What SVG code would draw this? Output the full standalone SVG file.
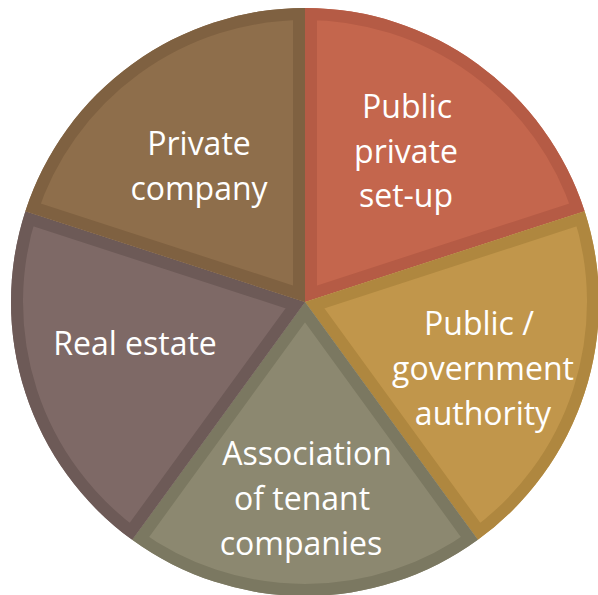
<svg xmlns="http://www.w3.org/2000/svg" width="598" height="595" viewBox="0 0 598 595">
  <style>
    .band { fill: none; stroke-width: 24; }
    .label { font-family: "Open Sans", Lato, "Liberation Sans", sans-serif; font-size: 32px; fill: #ffffff; text-anchor: middle; }
  </style>
  <defs>
    <!-- five equal 72-degree wedges around (305,302), r=294 -->
    <path id="w-ppp" d="M305,302 L305,8 A294,294 0 0 1 584.61,211.15 Z"/>
    <path id="w-gov" d="M305,302 L584.61,211.15 A294,294 0 0 1 477.81,539.85 Z"/>
    <path id="w-assoc" d="M305,302 L477.81,539.85 A294,294 0 0 1 132.19,539.85 Z"/>
    <path id="w-real" d="M305,302 L132.19,539.85 A294,294 0 0 1 25.39,211.15 Z"/>
    <path id="w-priv" d="M305,302 L25.39,211.15 A294,294 0 0 1 305,8 Z"/>
    <clipPath id="c-ppp"><use href="#w-ppp"/></clipPath>
    <clipPath id="c-gov"><use href="#w-gov"/></clipPath>
    <clipPath id="c-assoc"><use href="#w-assoc"/></clipPath>
    <clipPath id="c-real"><use href="#w-real"/></clipPath>
    <clipPath id="c-priv"><use href="#w-priv"/></clipPath>
  </defs>

  <g id="public-private">
    <use href="#w-ppp" fill="#C4664D"/>
    <use href="#w-ppp" class="band" stroke="#B55B45" clip-path="url(#c-ppp)"/>
    <text class="label"><tspan x="407" y="118">Public</tspan><tspan x="406" y="163">private</tspan><tspan x="406" y="207">set-up</tspan></text>
  </g>

  <g id="public-government">
    <use href="#w-gov" fill="#C1964B"/>
    <use href="#w-gov" class="band" stroke="#AF873F" clip-path="url(#c-gov)"/>
    <text class="label"><tspan x="479" y="335">Public /</tspan><tspan x="483" y="380">government</tspan><tspan x="483" y="425">authority</tspan></text>
  </g>

  <g id="association">
    <use href="#w-assoc" fill="#8C8870"/>
    <use href="#w-assoc" class="band" stroke="#7B7861" clip-path="url(#c-assoc)"/>
    <text class="label"><tspan x="307" y="465">Association</tspan><tspan x="302" y="510">of tenant</tspan><tspan x="301" y="555">companies</tspan></text>
  </g>

  <g id="real-estate">
    <use href="#w-real" fill="#7E6966"/>
    <use href="#w-real" class="band" stroke="#6D5A57" clip-path="url(#c-real)"/>
    <text class="label" x="135" y="355">Real estate</text>
  </g>

  <g id="private-company">
    <use href="#w-priv" fill="#8E6E4B"/>
    <use href="#w-priv" class="band" stroke="#7F6141" clip-path="url(#c-priv)"/>
    <text class="label"><tspan x="199" y="155">Private</tspan><tspan x="199" y="200">company</tspan></text>
  </g>
</svg>
